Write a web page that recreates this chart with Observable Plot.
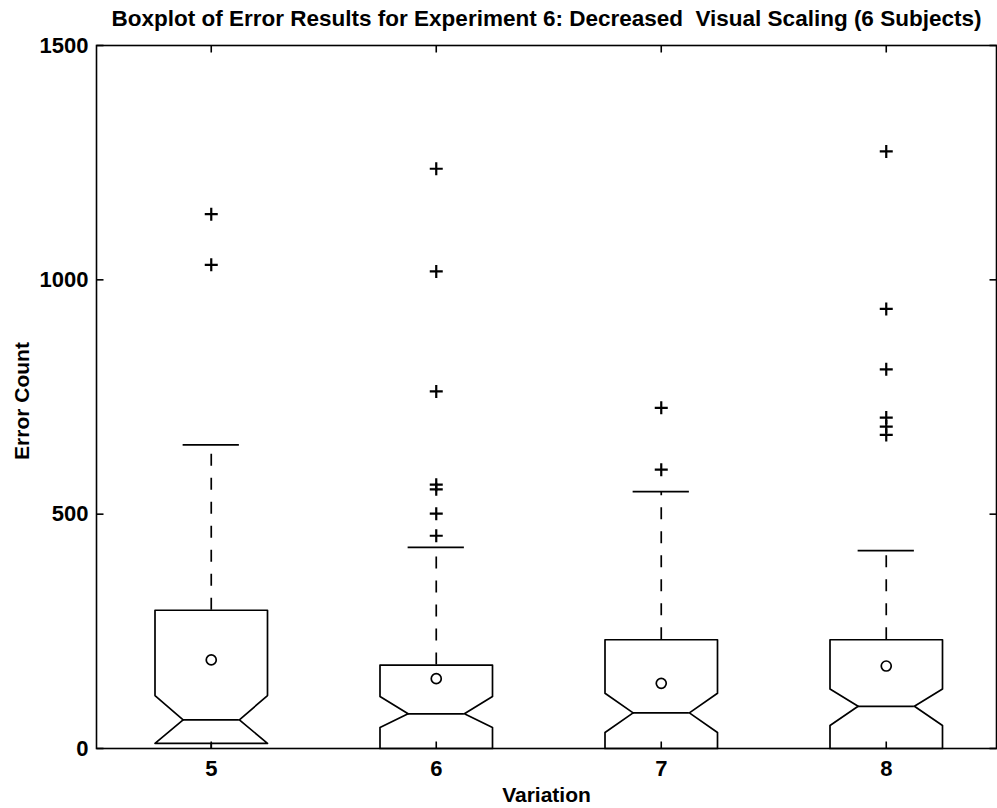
<!DOCTYPE html>
<html>
<head>
<meta charset="utf-8">
<script src="https://cdn.jsdelivr.net/npm/d3@7"></script>
<script src="https://cdn.jsdelivr.net/npm/@observablehq/plot@0.6"></script>
<style>
  body { margin: 0; background: #fff; }
  #chart svg { display: block; }
</style>
</head>
<body>
<div id="chart"></div>
<script>
// ---- Data ----
const titleText = "Boxplot of Error Results for Experiment 6: Decreased  Visual Scaling (6 Subjects)";
const xLabel = "Variation";
const yLabel = "Error Count";
const variations = [5, 6, 7, 8];
const q1 = [11, 0, 0, 0];
const medians = [61, 74, 76, 90];
const q3 = [295, 178, 232, 232];
const notchLow = [11, 45, 34, 49];
const notchHigh = [113, 111, 118, 127];
const whiskerHigh = [648, 429, 548, 422];
const whiskerLow = [0, 0, 0, 0];
const means = [189, 149, 139, 176];
const outliers5 = [1140, 1032];
const outliers6 = [1237, 1018, 762, 563, 553, 501, 454];
const outliers7 = [727, 595];
const outliers8 = [1274, 938, 809, 706, 687, 669];
const yTicks = [0, 500, 1000, 1500];
const xTicks = [5, 6, 7, 8];

// ---- Derived tables ----
const boxHalf = 0.25, notchHalf = 0.125;
const outlierRows = [
  ...outliers5.map(v => ({x: 5, y: v})),
  ...outliers6.map(v => ({x: 6, y: v})),
  ...outliers7.map(v => ({x: 7, y: v})),
  ...outliers8.map(v => ({x: 8, y: v}))
];
const boxes = variations.map((v, i) => ({
  v, q1: q1[i], med: medians[i], q3: q3[i], nlo: notchLow[i], nhi: notchHigh[i],
  whi: whiskerHigh[i], wlo: whiskerLow[i], mean: means[i]
}));
const outline = boxes.flatMap(b => [
  [b.v - boxHalf, b.q3], [b.v + boxHalf, b.q3], [b.v + boxHalf, b.nhi],
  [b.v + notchHalf, b.med], [b.v + boxHalf, b.nlo], [b.v + boxHalf, b.q1],
  [b.v - boxHalf, b.q1], [b.v - boxHalf, b.nlo], [b.v - notchHalf, b.med],
  [b.v - boxHalf, b.nhi], [b.v - boxHalf, b.q3]
].map(([x, y]) => ({box: b.v, x, y})));

// ---- Custom symbols ----
const plusSym = {draw(ctx, size) { const r = Math.sqrt(size / Math.PI); ctx.moveTo(-r, 0); ctx.lineTo(r, 0); ctx.moveTo(0, -r); ctx.lineTo(0, r); }};
const tickL = 7;
const tickRightSym = {draw(ctx) { ctx.moveTo(0, 0); ctx.lineTo(tickL, 0); }};
const tickLeftSym = {draw(ctx) { ctx.moveTo(0, 0); ctx.lineTo(-tickL, 0); }};
const tickUpSym = {draw(ctx) { ctx.moveTo(0, 0); ctx.lineTo(0, -tickL); }};
const tickDownSym = {draw(ctx) { ctx.moveTo(0, 0); ctx.lineTo(0, tickL); }};

const sw = 1.7;
const chart = Plot.plot({
  width: 997,
  height: 808,
  marginLeft: 96,
  marginRight: 1,
  marginTop: 45,
  marginBottom: 60,
  style: {fontFamily: "'Liberation Sans', Arial, Helvetica, sans-serif", color: "black", background: "white"},
  x: {type: "linear", domain: [4.49, 8.49]},
  y: {domain: [0, 1500]},
  marks: [
    // whiskers
    Plot.ruleX(boxes, {x: "v", y1: "q3", y2: "whi", stroke: "black", strokeWidth: sw, strokeDasharray: "12,12"}),
    Plot.ruleX(boxes, {x: "v", y1: "wlo", y2: "q1", stroke: "black", strokeWidth: sw, strokeDasharray: "12,12"}),
    Plot.ruleY(boxes, {y: "whi", x1: d => d.v - notchHalf, x2: d => d.v + notchHalf, stroke: "black", strokeWidth: sw}),
    // notched boxes
    Plot.line(outline, {x: "x", y: "y", z: "box", stroke: "black", strokeWidth: sw, curve: "linear"}),
    // medians
    Plot.ruleY(boxes, {y: "med", x1: d => d.v - notchHalf, x2: d => d.v + notchHalf, stroke: "black", strokeWidth: sw}),
    // means
    Plot.dot(boxes, {x: "v", y: "mean", r: 5, fill: "white", stroke: "black", strokeWidth: sw}),
    // outliers
    Plot.dot(outlierRows, {x: "x", y: "y", r: 6.5, symbol: plusSym, fill: "none", stroke: "black", strokeWidth: 2.2}),
    // frame and inward ticks
    Plot.frame({stroke: "black", strokeWidth: 1.6}),
    Plot.dot(yTicks, {y: d => d, frameAnchor: "left", symbol: tickRightSym, fill: "none", stroke: "black", strokeWidth: 1.6}),
    Plot.dot(yTicks, {y: d => d, frameAnchor: "right", symbol: tickLeftSym, fill: "none", stroke: "black", strokeWidth: 1.6}),
    Plot.dot(xTicks, {x: d => d, frameAnchor: "bottom", symbol: tickUpSym, fill: "none", stroke: "black", strokeWidth: 1.6}),
    Plot.dot(xTicks, {x: d => d, frameAnchor: "top", symbol: tickDownSym, fill: "none", stroke: "black", strokeWidth: 1.6}),
    // axes labels
    Plot.axisY({ticks: yTicks, tickSize: 0, tickPadding: 8, fontSize: 22, fontWeight: "bold", tickFormat: d => String(d), label: null}),
    Plot.axisX({ticks: xTicks, tickSize: 0, tickPadding: 12, fontSize: 22, fontWeight: "bold", tickFormat: d => String(d), label: null}),
    Plot.text([yLabel], {text: d => d, frameAnchor: "left", textAnchor: "middle", lineAnchor: "middle", dx: -74, dy: 4, rotate: -90, fontSize: 21, fontWeight: "bold"}),
    Plot.text([xLabel], {text: d => d, frameAnchor: "bottom", textAnchor: "middle", lineAnchor: "middle", dy: 47, fontSize: 21, fontWeight: "bold"}),
    Plot.text([titleText], {text: d => d, frameAnchor: "top", textAnchor: "middle", lineAnchor: "middle", dy: -27, fontSize: 22.5, fontWeight: "bold"})
  ]
});
document.getElementById("chart").append(chart);
</script>
</body>
</html>
